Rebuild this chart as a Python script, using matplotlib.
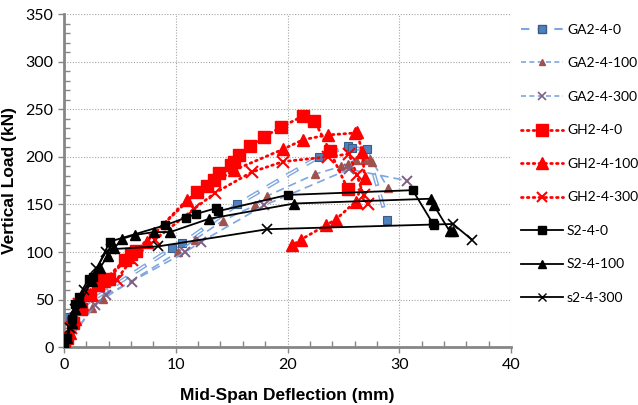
import matplotlib
matplotlib.use("Agg")
import matplotlib.pyplot as plt
from matplotlib.ticker import MultipleLocator
from matplotlib.lines import Line2D

plt.rcParams["font.family"] = ["Lato", "DejaVu Sans"]

# ---------------------------------------------------------------------------
# Data
# ---------------------------------------------------------------------------
ga0_x = [0, 0.2, 9.65, 10.6, 15.5, 22.8, 25.4, 25.8, 27.1, 28.9]
ga0_y = [0, 32, 104, 109, 150, 200, 211, 209, 208, 134]

ga100_x = [0, 2.5, 3.5, 10.2, 11.7, 14.2, 17.1, 18.2, 22.5, 24.8, 25.4, 26.1, 26.8, 27.4, 27.6, 29.0]
ga100_y = [0, 41, 51, 100, 113, 133, 149, 159, 182, 190, 193, 197, 197, 198, 195, 167]

ga300_x = [0, 2.75, 3.75, 6.05, 10.85, 12.3, 17.9, 25.5, 30.7]
ga300_y = [0, 44, 55, 69, 100, 111, 149, 187, 175]

gh0_x = [0, 0.3, 0.8, 1.5, 2.3, 3.0, 3.5, 4.0, 5.5, 6.0, 6.4, 11.9, 12.8, 13.4, 13.9,
         14.9, 15.2, 15.7, 16.6, 17.9, 19.4, 21.4, 22.4, 23.8, 25.4]
gh0_y = [0, 10, 25, 40, 55, 65, 71, 72, 92, 98, 101, 163, 169, 176, 183,
         191, 195, 202, 211, 221, 231, 243, 238, 206, 166]

gh100_x = [0, 0.5, 1.0, 1.6, 2.3, 3.6, 5.7, 7.4, 11.0, 15.2, 19.6, 21.4, 23.6, 26.0, 26.2,
           26.7, 26.9, 26.1, 24.3, 23.4, 21.2, 20.4]
gh100_y = [0, 15, 30, 45, 56, 70, 95, 111, 155, 186, 208, 218, 223, 225, 226,
           205, 178, 153, 134, 128, 113, 107]

gh300_x = [0, 0.6, 1.3, 2.5, 4.7, 6.05, 8.15, 11.6, 13.5, 16.8, 19.6, 23.6, 25.5, 26.2, 26.8, 27.2]
gh300_y = [0, 20, 45, 55, 71, 92, 113, 145, 162, 184, 195, 200, 203, 181, 160, 150]

s0_x = [0, 0.3, 0.7, 1.0, 1.3, 2.2, 2.6, 4.1, 9.0, 10.9, 11.8, 13.6, 13.8, 20.0, 31.2, 33.0, 33.1]
s0_y = [0, 10, 30, 45, 53, 72, 74, 111, 128, 136, 140, 146, 143, 160, 165, 130, 128]

s100_x = [0, 0.3, 0.7, 1.0, 1.5, 2.5, 3.2, 3.9, 4.5, 5.2, 6.35, 8.06, 9.5, 13.0, 20.6,
          32.8, 33.1, 34.5, 34.8]
s100_y = [0, 10, 25, 40, 48, 70, 83, 96, 104, 114, 118, 121, 121, 135, 151,
          156, 149, 122, 122]

s300_x = [0, 0.5, 1.0, 1.8, 2.9, 3.75, 4.2, 8.45, 18.2, 34.8, 36.5]
s300_y = [0, 20, 40, 60, 83, 100, 103, 106, 124, 129.5, 113]

labels = ["GA2-4-0", "GA2-4-100", "GA2-4-300", "GH2-4-0", "GH2-4-100",
          "GH2-4-300", "S2-4-0", "S2-4-100", "s2-4-300"]

# ---------------------------------------------------------------------------
# Figure
# ---------------------------------------------------------------------------
fig = plt.figure(figsize=(6.38, 4.05), dpi=100)
ax = fig.add_axes([0.1003, 0.1425, 0.7007, 0.8229])

GA_LINE = "#7EA6E0"
DOTS = (0, (0.6, 1.5))

# GA series (dashed light blue lines; GA2-4-0 is a hollow double dash)
ax.plot(ga0_x, ga0_y, color=GA_LINE, lw=3.0, ls=(0, (3.2, 2.2)), zorder=2)
ax.plot(ga0_x, ga0_y, color="white", lw=1.0, ls=(0, (8.5, 7.7)), zorder=2.1)
ax.plot(ga0_x, ga0_y, ls="none", marker="s", ms=6,
        mfc="#4F81BD", mec="#385D8A", mew=0.8, zorder=2.2)
ax.plot(ga100_x, ga100_y, color=GA_LINE, lw=1.2, ls=(0, (5, 3)),
        marker="^", ms=6, mfc="#A0504D", mec="#A0504D", zorder=2.3)
ax.plot(ga300_x, ga300_y, color=GA_LINE, lw=1.2, ls=(0, (5, 3)),
        marker="x", ms=7, mec="#7F6084", mew=1.4, zorder=2.4)

# GH series (red dotted)
ax.plot(gh0_x, gh0_y, color="red", lw=2.0, ls=DOTS, dash_capstyle="round",
        marker="s", ms=8, mfc="red", mec="red", zorder=3)
ax.plot(gh100_x, gh100_y, color="red", lw=2.0, ls=DOTS, dash_capstyle="round",
        marker="^", ms=8, mfc="red", mec="red", zorder=3.1)
ax.plot(gh300_x, gh300_y, color="red", lw=2.0, ls=DOTS, dash_capstyle="round",
        marker="x", ms=8, mec="red", mew=1.5, zorder=3.2)

# S series (black solid)
ax.plot(s0_x, s0_y, color="black", lw=1.3, marker="s", ms=6,
        mfc="black", mec="black", zorder=4)
ax.plot(s100_x, s100_y, color="black", lw=1.3, marker="^", ms=7,
        mfc="black", mec="black", zorder=4.1)
ax.plot(s300_x, s300_y, color="black", lw=1.3, marker="x", ms=7,
        mec="black", mew=1.2, zorder=4.2)

# ---------------------------------------------------------------------------
# Axes styling
# ---------------------------------------------------------------------------
ax.set_xlim(0, 40)
ax.set_ylim(0, 350)
ax.xaxis.set_major_locator(MultipleLocator(10))
ax.xaxis.set_minor_locator(MultipleLocator(2))
ax.yaxis.set_major_locator(MultipleLocator(50))
ax.yaxis.set_minor_locator(MultipleLocator(10))
ax.grid(True, which="major", color="#A6A6A6", ls=(0, (1, 1.5)), lw=0.8)
ax.set_axisbelow(True)
for side in ("top", "right"):
    ax.spines[side].set_visible(False)
for side in ("left", "bottom"):
    ax.spines[side].set_color("#868686")
    ax.spines[side].set_linewidth(2.0)
ax.tick_params(which="major", direction="out", length=4, width=1,
               color="#868686", labelsize=11.5)
ax.tick_params(which="minor", direction="in", length=4, width=1,
               color="#868686")

ax.set_xlabel("Mid-Span Deflection (mm)", fontsize=12.5, fontweight="bold",
              family="Liberation Sans", labelpad=12)
ax.set_ylabel("Vertical Load (kN)", fontsize=12.5, fontweight="bold",
              family="Liberation Sans", labelpad=6)

# legend handles mirror the series styles
leg_handles = [
    Line2D([], [], color=GA_LINE, lw=1.5, ls=(0, (4, 4)), marker="s", ms=6,
           mfc="#4F81BD", mec="#385D8A"),
    Line2D([], [], color=GA_LINE, lw=1.2, ls=(0, (3, 2)), marker="^", ms=5,
           mfc="#A0504D", mec="#A0504D"),
    Line2D([], [], color=GA_LINE, lw=1.2, ls=(0, (3, 2)), marker="x", ms=6,
           mec="#7F6084", mew=1.2),
    Line2D([], [], color="red", lw=2.0, ls=DOTS, dash_capstyle="round",
           marker="s", ms=8, mfc="red", mec="red"),
    Line2D([], [], color="red", lw=2.0, ls=DOTS, dash_capstyle="round",
           marker="^", ms=8, mfc="red", mec="red"),
    Line2D([], [], color="red", lw=2.0, ls=DOTS, dash_capstyle="round",
           marker="x", ms=7, mec="red", mew=1.5),
    Line2D([], [], color="black", lw=1.3, marker="s", ms=6, mfc="black"),
    Line2D([], [], color="black", lw=1.3, marker="^", ms=6, mfc="black"),
    Line2D([], [], color="black", lw=1.3, marker="x", ms=6, mec="black"),
]
fig.legend(leg_handles, labels, loc="upper left", bbox_to_anchor=(0.808, 0.955),
           frameon=False, fontsize=10, handlelength=3.0, handletextpad=0.3,
           labelspacing=1.55, borderaxespad=0)

fig.savefig("out.png", dpi=100)
